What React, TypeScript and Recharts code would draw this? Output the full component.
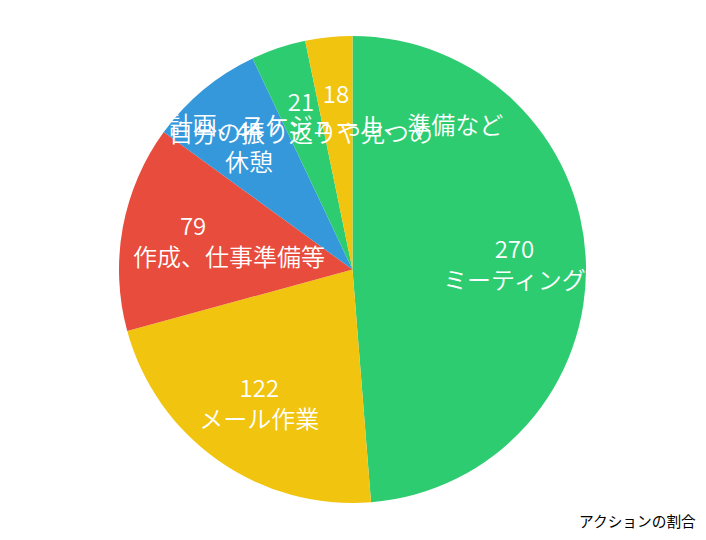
import React from "react";
import { PieChart, Pie, Cell } from "recharts";

const categories = [
  "ミーティング",
  "メール作業",
  "　　　作成、仕事準備等",
  "休憩",
  "自分の振り返りや見つめ",
  "計画、スケジュール、準備など",
];
const values = [270, 122, 79, 44, 21, 18];
const colors = ["#2ecc71", "#f1c40f", "#e74c3c", "#3498db", "#2ecc71", "#f1c40f"];
const title = "アクションの割合";

const data = categories.map((name, i) => ({ name, value: values[i] }));

const RAD = Math.PI / 180;
const FONT = "'Noto Sans CJK JP', 'Noto Sans', sans-serif";

const renderLabel = (props: any) => {
  const { cx, cy, midAngle, outerRadius, name, value } = props;
  const r = outerRadius * 0.694;
  const x = cx + r * Math.cos(-midAngle * RAD);
  const y = cy + r * Math.sin(-midAngle * RAD);
  return (
    <g>
      <text
        x={x}
        y={y - 15.5}
        fill="#ffffff"
        textAnchor="middle"
        dominantBaseline="central"
        fontFamily={FONT}
        fontSize={24}
        fontWeight={350}
      >
        {value}
      </text>
      <text
        x={x}
        y={y + 15.5}
        fill="#ffffff"
        textAnchor="middle"
        dominantBaseline="central"
        fontFamily={FONT}
        fontSize={24}
        fontWeight={350}
      >
        {name}
      </text>
    </g>
  );
};

export default function App() {
  return (
    <div style={{ position: "absolute", left: 0, top: 0, width: 706, height: 540, background: "#fff" }}>
      <PieChart width={706} height={540} margin={{ top: 0, right: 0, bottom: 0, left: 0 }}>
        <Pie
          data={data}
          dataKey="value"
          nameKey="name"
          cx={352.5}
          cy={269.5}
          outerRadius={233.5}
          innerRadius={0}
          startAngle={90}
          endAngle={-270}
          stroke="none"
          label={renderLabel}
          labelLine={false}
          isAnimationActive={false}
        >
          {data.map((d, i) => (
            <Cell key={d.name} fill={colors[i]} />
          ))}
        </Pie>
      </PieChart>
      <div
        style={{
          position: "absolute",
          left: 579,
          top: 513,
          fontFamily: FONT,
          fontSize: 14.7,
          lineHeight: "16px",
          color: "#000",
          whiteSpace: "nowrap",
        }}
      >
        {title}
      </div>
    </div>
  );
}
